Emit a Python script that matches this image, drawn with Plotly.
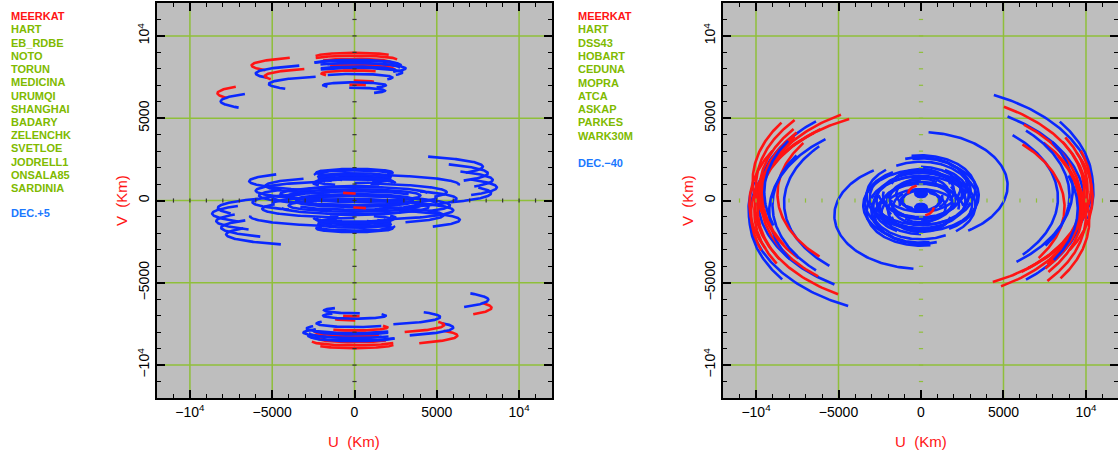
import numpy as np
import plotly.graph_objects as go

# ---------------- data ----------------
# Each UV track is an elliptical arc: u = a*sin(t), v = v0 - K*a*cos(t), t in degrees.
# Every track is also drawn with its conjugate (-u, -v).
LEFT_K = 0.095          # v/u axis ratio of the tracks, DEC +5
RIGHT_K = 0.62          # DEC -40

left_col = ['r', 'b', 'r', 'b', 'r', 'b',
            'r', 'r', 'b', 'b', 'r', 'b', 'r', 'b', 'r', 'b', 'r', 'b', 'b', 'b', 'r', 'b',
            'b', 'b', 'b', 'b', 'b', 'b', 'b',
            'b', 'b', 'b', 'b', 'b', 'b',
            'b', 'b', 'b', 'b', 'b', 'b', 'b',
            'b', 'b', 'b', 'b', 'b',
            'r']
left_a = [8330, 8130, 6250, 6000, 5450, 5200,
          2400, 2600, 2800, 3100, 2400, 2900, 2000, 2300, 1300, 1900, 900, 1850, 2700, 2500, 2200, 2600,
          2300, 2200, 2050, 2500, 2400, 2150, 2350,
          3550, 4500, 4000, 3000, 3800, 5000,
          6400, 6000, 5800, 6200, 5600, 6350, 5400,
          7800, 8100, 8400, 8650, 8300,
          800]
left_v0 = [6520, 6030, 8210, 7720, 7560, 7080,
           8742, 8553, 8234, 8025, 7992, 7775, 7710, 7472, 7160, 7000, 6944, 6674, 8100, 7900, 8400, 8300,
           1700, 1450, 1250, 1050, 1600, 1350, 1150,
           50, 400, -300, 600, 200, -200,
           1180, 600, 300, -100, -500, -960, 900,
           2060, 1650, 1250, 800, 450,
           500]
left_t1 = [240, 235, 219, 214, 214, 207,
           260, 245, 240, 212, 218, 225, 300, 225, 182, 300, 200, 190, 230, 235, 240, 250,
           60, 20, 0, 90, 100, 30, 70,
           0, 100, 0, 150, 120, 90,
           228, 200, 230, 210, 240, 265, 215,
           145, 135, 130, 125, 115,
           300]
left_t2 = [292, 300, 300, 298, 291, 306,
           120, 95, 70, 50, 80, 60, 140, 60, 115, 45, 130, 40, 80, 70, 100, 75,
           330, 340, 300, 300, 280, 320, 330,
           360, 300, 360, 330, 300, 270,
           335, 360, 330, 320, 350, 341, 330,
           60, 55, 60, 55, 45,
           365]

right_col = ['b', 'r', 'b', 'r', 'b', 'r', 'b', 'r',
             'r', 'r', 'b', 'r', 'b',
             'r', 'r', 'r', 'r', 'r', 'b',
             'b',
             'b', 'b', 'b', 'b', 'b', 'b', 'b', 'b', 'b', 'b', 'b', 'b', 'b', 'b', 'b', 'b', 'b', 'b',
             'b', 'b', 'b', 'b', 'b',
             'b', 'b', 'b',
             'r']
right_a = [10450, 10050, 9900, 9700, 10400, 10100, 8300, 8700,
           10300, 9900, 9200, 9700, 9000,
           9800, 10000, 9600, 10400, 10200, 9500,
           5250,
           3500, 3300, 3100, 2900, 2700, 2500, 2300, 2100, 1900, 1700, 1500, 1300, 1100, 3400, 3000, 2600, 3200, 1800,
           3300, 2800, 2400, 3000, 2000,
           350, 230, 120,
           760]
right_v0 = [540, 300, -100, 0, 1000, 700, 150, -400,
            -840, -500, -700, 350, -300,
            600, 900, 300, -200, 1200, 500,
            900,
            300, 700, -200, 300, 0, 500, -300, 200, -100, 400, -400, 200, 0, 100, 700, -600, -500, 800,
            -300, 900, -800, 500, 600,
            420, 420, 420,
            460]
right_t1 = [155, 150, 148, 140, 126, 120, 138, 135,
            205, 218, 219, 231, 237,
            232, 230, 233, 240, 236, 238,
            175,
            150, 190, 200, 150, -60, 180, 210, 120, 0, 200, 160, 100, 0, 130, 190, 230, 250, 100,
            170, 40, 300, 210, 60,
            0, 0, 0,
            200]
right_t2 = [75, 50, 40, 30, 60, 40, 48, 55,
            290, 300, 300, 310, 315,
            290, 285, 300, 295, 280, 290,
            33,
            10, 60, 60, -10, 130, 30, 80, -60, 200, 40, -40, -80, 150, 30, 60, 100, 120, 260,
            40, 200, 130, 80, 230,
            360, 360, 360,
            275]

left_names = ['MEERKAT', 'HART', 'EB_RDBE', 'NOTO', 'TORUN', 'MEDICINA', 'URUMQI', 'SHANGHAI',
              'BADARY', 'ZELENCHK', 'SVETLOE', 'JODRELL1', 'ONSALA85', 'SARDINIA']
left_dec = 'DEC.+5'
right_names = ['MEERKAT', 'HART', 'DSS43', 'HOBART', 'CEDUNA', 'MOPRA', 'ATCA', 'ASKAP',
               'PARKES', 'WARK30M']
right_dec = 'DEC.\u221240'

tick_vals = [-10000, -5000, 0, 5000, 10000]
tick_text = ['\u221210<sup>4</sup>', '\u22125000', '0', '5000', '10<sup>4</sup>']
grid_left = [-10000, -5000, 0, 5000, 10000]
grid_right = [-10000, -5000, 5000, 10000]
zero_ticks = list(range(-11000, 12000, 1000))

# ---------------- styles ----------------
RED = '#ff1414'
BLUE = '#0a28ff'
GREEN_TXT = '#7fba00'
BLUE_TXT = '#1a78ff'
GRID = '#8fbf3a'
BG = '#bebebe'
FONT = 'Liberation Sans'
W, H = 1118, 455

fig = go.Figure()


def add_arcs(cols, aa, vv, t1s, t2s, K, xa, ya):
    for c, a, v0, t1, t2 in zip(cols, aa, vv, t1s, t2s):
        t = np.radians(np.linspace(t1, t2, 90))
        u = a * np.sin(t)
        v = v0 - K * a * np.cos(t)
        colour = RED if c == 'r' else BLUE
        for sgn in (1, -1):
            fig.add_trace(go.Scatter(x=sgn * u, y=sgn * v, mode='lines',
                                     line=dict(color=colour, width=2.6),
                                     xaxis=xa, yaxis=ya, hoverinfo='skip',
                                     showlegend=False))


add_arcs(left_col, left_a, left_v0, left_t1, left_t2, LEFT_K, 'x', 'y')
add_arcs(right_col, right_a, right_v0, right_t1, right_t2, RIGHT_K, 'x2', 'y2')

# small tick marks along the zero axes
for xa, ya, col in (('x', 'y', '#333333'), ('x2', 'y2', GRID)):
    fig.add_trace(go.Scatter(x=zero_ticks, y=[0] * len(zero_ticks), mode='markers',
                             marker=dict(symbol='line-ns', size=3, line=dict(color=col, width=1.2)),
                             xaxis=xa, yaxis=ya, hoverinfo='skip', showlegend=False))
    fig.add_trace(go.Scatter(x=[0] * len(zero_ticks), y=zero_ticks, mode='markers',
                             marker=dict(symbol='line-ew', size=3, line=dict(color=col, width=1.2)),
                             xaxis=xa, yaxis=ya, hoverinfo='skip', showlegend=False))

shapes = []
for xr, yr, grid in (('x', 'y', grid_left), ('x2', 'y2', grid_right)):
    for g in grid:
        shapes.append(dict(type='line', xref=xr, yref=yr + ' domain', x0=g, x1=g, y0=0, y1=1,
                           line=dict(color=GRID, width=1.5), layer='below'))
        shapes.append(dict(type='line', xref=xr + ' domain', yref=yr, x0=0, x1=1, y0=g, y1=g,
                           line=dict(color=GRID, width=1.5), layer='below'))

ydom = [(H - 398) / H, (H - 3) / H]


def axis(domain, rng, anchor, angle=0):
    return dict(domain=domain, range=rng, anchor=anchor, showgrid=False, zeroline=False,
                automargin=False,
                showline=True, linecolor='black', linewidth=2, mirror='allticks',
                ticks='inside', ticklen=8, tickwidth=1.5, tickcolor='black',
                tickmode='array', tickvals=tick_vals, ticktext=tick_text, tickangle=angle,
                tickfont=dict(family=FONT, size=14, color='black'),
                minor=dict(ticks='inside', ticklen=4, tickwidth=1.2, tickcolor='black',
                           tickmode='linear', tick0=0, dtick=1000, showgrid=False))


annotations = []


def txt(x, y, s, colour, size, angle=0, anchor='left'):
    annotations.append(dict(x=x / W, y=1 - y / H, xref='paper', yref='paper', text=s,
                            showarrow=False, xanchor=anchor, yanchor='middle', textangle=angle,
                            font=dict(family=FONT, size=size, color=colour)))


for i, n in enumerate(left_names):
    txt(9, 16 + 13.25 * i, '<b>' + n + '</b>', RED if i == 0 else GREEN_TXT, 11)
txt(9, 213, '<b>' + left_dec + '</b>', BLUE_TXT, 11)
for i, n in enumerate(right_names):
    txt(576, 16 + 13.3 * i, '<b>' + n + '</b>', RED if i == 0 else GREEN_TXT, 11)
txt(576, 163, '<b>' + right_dec + '</b>', BLUE_TXT, 11)

txt(354, 441, 'U  (Km)', RED, 15, anchor='center')
txt(921, 441, 'U  (Km)', RED, 15, anchor='center')
txt(121, 201, 'V  (Km)', RED, 15, angle=-90, anchor='center')
txt(687, 201, 'V  (Km)', RED, 15, angle=-90, anchor='center')

fig.update_layout(
    width=W, height=H, margin=dict(l=0, r=0, t=0, b=0),
    paper_bgcolor='white', plot_bgcolor=BG,
    xaxis=axis([157 / W, 552 / W], [-12000, 12000], 'y'),
    yaxis=axis(ydom, [-12000, 12000], 'x', -90),
    xaxis2=axis([723 / W, 1.0], [-12000, 11940], 'y2'),
    yaxis2=axis(ydom, [-12000, 12000], 'x2', -90),
    shapes=shapes, annotations=annotations, showlegend=False,
)

fig.write_html('out.html', config={'displayModeBar': False},
               post_script="document.body.style.margin='0';document.body.style.overflow='hidden';")
